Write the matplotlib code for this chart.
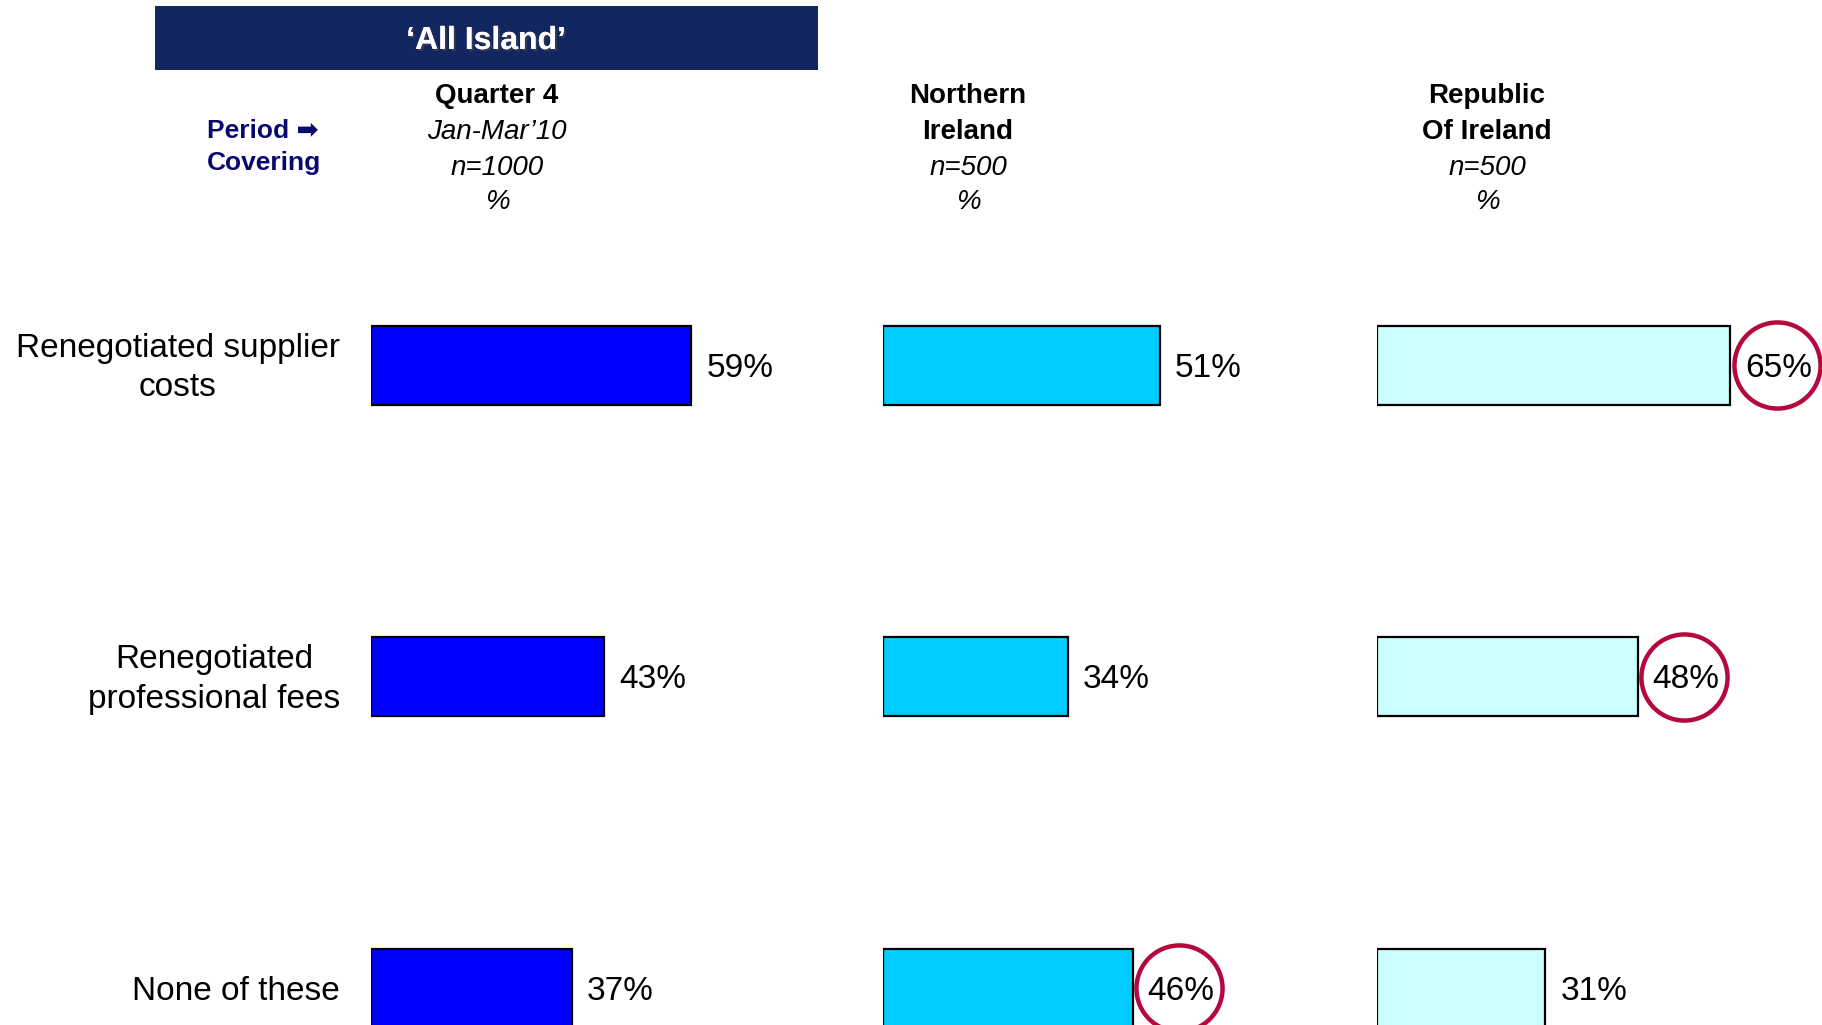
import matplotlib
matplotlib.use("Agg")
import matplotlib.pyplot as plt
import matplotlib.patheffects as pe
import matplotlib.transforms as mtransforms
from matplotlib.patches import Rectangle

plt.rcParams['font.family'] = ['Liberation Sans', 'DejaVu Sans']

categories = ["Renegotiated supplier\ncosts", "Renegotiated\nprofessional fees", "None of these"]
col_titles = ["Quarter 4", "Northern\nIreland", "Republic\nOf Ireland"]
col_sub = ["Jan-Mar\u201910\nn=1000\n%", "n=500\n%", "n=500\n%"]
q4_all = [59, 43, 37]
northern = [51, 34, 46]
republic = [65, 48, 31]
series = [q4_all, northern, republic]
# cells flagged with a circle: (column, row)
circled = [(2, 0), (2, 1), (1, 2)]

bar_colors = ["#0000FF", "#00CCFF", "#CCFFFF"]
ring = "#B5083C"
navy = "#132660"

W, H = 1822, 1025
fig = plt.figure(figsize=(W / 100, H / 100), dpi=100)

# header banner
fig.add_artist(Rectangle((155 / W, 1 - 70 / H), 663 / W, 64 / H,
                         transform=fig.transFigure, color=navy, lw=0))
fig.text(486 / W, 1 - 41 / H, "\u2018All Island\u2019", color="white", fontsize=23,
         fontweight="bold", ha="center", va="center",
         path_effects=[pe.withSimplePatchShadow(offset=(1.5, -1.5), alpha=0.5), pe.Normal()])

fig.text(207 / W, 1 - 131 / H, "Period \u27A1", color="#0A0A6E", fontsize=19,
         fontweight="bold", ha="left", va="center")
fig.text(207 / W, 1 - 163 / H, "Covering", color="#0A0A6E", fontsize=19,
         fontweight="bold", ha="left", va="center")

# column headers
col_x = [497, 968, 1487]
for j in range(3):
    x = col_x[j] / W
    title_lines = col_titles[j].split("\n")
    sub_lines = col_sub[j].split("\n")
    ys = [96, 132, 168, 202]
    lines = [(t, "bold", "normal") for t in title_lines] + [(s, "normal", "italic") for s in sub_lines]
    for (txt, wt, st), y in zip(lines, ys):
        fig.text(x, 1 - y / H, txt, fontsize=20, fontweight=wt, fontstyle=st,
                 ha="center", va="center")

# bar panels
row_top = 365.0
row_step = 311.5
px_per_pct = 5.43
ax_left = [371, 883, 1377]
ax_w = 440
xmax = ax_w / px_per_pct
ylim = ((H - row_top) / row_step, -row_top / row_step)
bar_h = 79 / row_step

for j, vals in enumerate(series):
    ax = fig.add_axes([ax_left[j] / W, 0, ax_w / W, 1])
    ax.set_xlim(0, xmax)
    ax.set_ylim(*ylim)
    ax.axis("off")
    ax.barh(range(len(vals)), vals, height=bar_h, color=bar_colors[j],
            edgecolor="black", lw=1.6, zorder=3)
    for i, v in enumerate(vals):
        ax.text(v + 8.9, i, f"{v}%", fontsize=24, ha="center", va="center_baseline")
        if (j, i) in circled:
            ax.plot(v + 8.6, i, "o", ms=62, mfc="none", mec=ring, mew=3.2, clip_on=False)
    if j == 0:
        # category labels, right-aligned just left of the bars
        lab_tr = mtransforms.offset_copy(ax.transData, fig=fig, x=-31, y=-3, units="dots")
        for i, c in enumerate(categories):
            ax.text(0, i, c, transform=lab_tr, fontsize=24, linespacing=1.35,
                    ha="right", va="center", multialignment="center")

fig.savefig("out.png", dpi=100)
